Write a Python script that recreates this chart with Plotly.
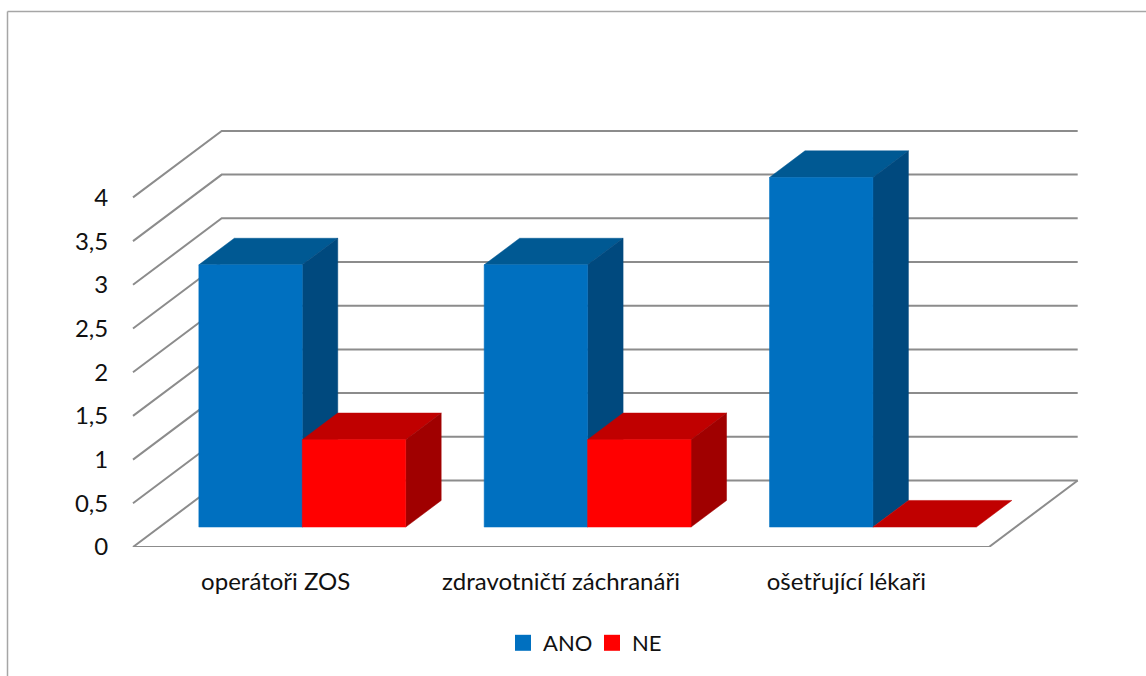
import plotly.graph_objects as go

# Chart data
categories = ["operátoři ZOS", "zdravotničtí záchranáři", "ošetřující lékaři"]
ano_values = [3, 3, 4]
ne_values = [1, 1, 0]
value_ticks = [0, 0.5, 1, 1.5, 2, 2.5, 3, 3.5, 4]
value_tick_labels = ["0", "0,5", "1", "1,5", "2", "2,5", "3", "3,5", "4"]

WIDTH, HEIGHT = 1146, 676
MARGIN = dict(l=118, r=56, t=115, b=129)

# Scale of the plot area in pixels per axis unit
PX_X = 285.33
PX_Y = 87.4
X0_PX, Y0_PX = 133, 547
X_RANGE = [(MARGIN["l"] - X0_PX) / PX_X, (WIDTH - MARGIN["r"] - X0_PX) / PX_X]
Y_RANGE = [0, (Y0_PX - MARGIN["t"]) / PX_Y]

# Oblique projection: full floor depth expressed in axis units
DEPTH_X = 88.7 / PX_X
DEPTH_Y = 66.5 / PX_Y

# Box layout inside one category band
GAP = 0.1375
BAR_W = 0.3625
DEPTH_NEAR = 0.30
DEPTH_FAR = 0.70


def project(x, value, depth):
    return x + depth * DEPTH_X, value + depth * DEPTH_Y


def polygon(points):
    xs, ys = zip(*(project(*p) for p in points))
    return list(xs) + [xs[0]], list(ys) + [ys[0]]


def faces(left, value):
    right = left + BAR_W
    n, f = DEPTH_NEAR, DEPTH_FAR
    front = polygon([(left, 0, n), (right, 0, n), (right, value, n), (left, value, n)])
    top = polygon([(left, value, n), (right, value, n), (right, value, f), (left, value, f)])
    side = polygon([(right, 0, n), (right, 0, f), (right, value, f), (right, value, n)])
    return front, top, side


def merged(polys):
    xs, ys = [], []
    for px, py in polys:
        xs += px + [None]
        ys += py + [None]
    return xs, ys


def fill_trace(polys, colour):
    xs, ys = merged(polys)
    return go.Scatter(x=xs, y=ys, mode="lines", fill="toself", fillcolor=colour,
                      line=dict(color=colour, width=0.5), hoverinfo="skip", showlegend=False)


fig = go.Figure()

# Walls and floor grid
grid_x, grid_y = [], []
for v in value_ticks:
    for pt in [project(0, v, 0), project(0, v, 1), project(3, v, 1)]:
        grid_x.append(pt[0])
        grid_y.append(pt[1])
    grid_x.append(None)
    grid_y.append(None)
floor = [project(0, 0, 0), project(3, 0, 0), project(3, 0, 1)]
grid_x += [p[0] for p in floor]
grid_y += [p[1] for p in floor]
fig.add_trace(go.Scatter(x=grid_x, y=grid_y, mode="lines", hoverinfo="skip", showlegend=False,
                         line=dict(color="#8C8C8C", width=2)))

# Boxes, one series after the other so the red boxes sit in front of the blue sides
series = [
    ("ANO", ano_values, 0, "#0070C0", "#005993", "#00497E"),
    ("NE", ne_values, 1, "#FF0000", "#C00000", "#A00000"),
]
for name, values, slot, c_front, c_top, c_side in series:
    boxes = [faces(i + GAP + slot * BAR_W, v) for i, v in enumerate(values)]
    fig.add_trace(fill_trace([b[1] for b in boxes], c_top))
    standing = [b for b, v in zip(boxes, values) if v > 0]
    fig.add_trace(fill_trace([b[2] for b in standing], c_side))
    fig.add_trace(fill_trace([b[0] for b in standing], c_front))

# Legend entries
for name, _, _, c_front, _, _ in series:
    fig.add_trace(go.Scatter(x=[None], y=[None], mode="markers", name=name,
                             marker=dict(symbol="square", size=16, color=c_front)))

plot_w = WIDTH - MARGIN["l"] - MARGIN["r"]
plot_h = HEIGHT - MARGIN["t"] - MARGIN["b"]


def paper_x(px):
    return (px - MARGIN["l"]) / plot_w


def paper_y(px):
    return (HEIGHT - MARGIN["b"] - px) / plot_h


# Chart frame along the top and left edges
frame = dict(type="line", xref="paper", yref="paper", line=dict(color="#A6A6A6", width=1.5))
fig.add_shape(x0=paper_x(7.5), x1=paper_x(WIDTH), y0=paper_y(11.5), y1=paper_y(11.5), **frame)
fig.add_shape(x0=paper_x(7.5), x1=paper_x(7.5), y0=paper_y(11.5), y1=paper_y(HEIGHT), **frame)

FONT = dict(family="Lato", size=24, color="#111111")
LEGEND_FONT = dict(family="Lato", size=22, color="#111111")

fig.update_layout(
    width=WIDTH,
    height=HEIGHT,
    margin=MARGIN,
    paper_bgcolor="white",
    plot_bgcolor="white",
    font=FONT,
    showlegend=True,
    legend=dict(orientation="h", x=paper_x(592), y=paper_y(643), xanchor="center", yanchor="middle",
                font=LEGEND_FONT, bgcolor="rgba(0,0,0,0)", entrywidth=44, entrywidthmode="pixels"),
    xaxis=dict(range=X_RANGE, tickmode="array", tickvals=[0.5, 1.5, 2.5], ticktext=categories,
               showgrid=False, zeroline=False, showline=False, ticks="outside", ticklen=13,
               tickcolor="rgba(0,0,0,0)", fixedrange=True),
    yaxis=dict(range=Y_RANGE, tickmode="array", tickvals=value_ticks, ticktext=value_tick_labels,
               showgrid=False, zeroline=False, showline=False, ticks="outside", ticklen=4,
               tickcolor="rgba(0,0,0,0)", fixedrange=True),
)

fig.write_html("out.html", config=dict(displayModeBar=False))
